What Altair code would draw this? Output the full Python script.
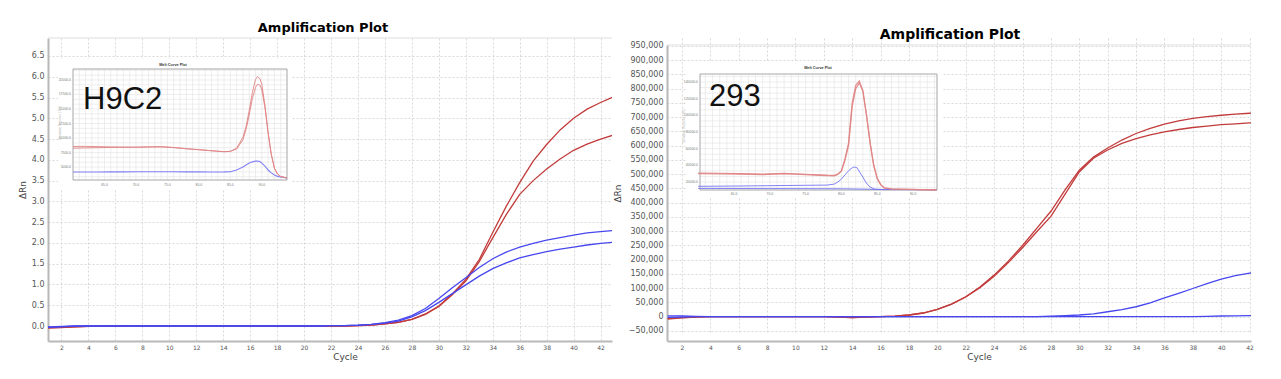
import altair as alt
import pandas as pd

# ---------------- data ----------------
cycles = list(range(1, 44))
x_ticks = list(range(2, 43, 2))

h9c2_red_a = [-0.04, -0.03, -0.02, -0.01, 0.0, 0.01, 0.01, 0.01, 0.01, 0.01, 0.01, 0.01, 0.01, 0.01, 0.01,
              0.01, 0.01, 0.0, 0.0, 0.0, 0.0, 0.0, 0.0, 0.01, 0.02, 0.05, 0.09, 0.16, 0.29, 0.48, 0.77,
              1.12, 1.6, 2.25, 2.88, 3.45, 3.97, 4.37, 4.72, 5.0, 5.22, 5.38, 5.52]
h9c2_red_b = [-0.05, -0.04, -0.02, -0.01, 0.0, 0.0, 0.01, 0.01, 0.01, 0.01, 0.01, 0.01, 0.01, 0.01, 0.01,
              0.01, 0.0, 0.0, 0.0, 0.0, 0.0, 0.0, 0.0, 0.01, 0.02, 0.05, 0.09, 0.16, 0.28, 0.47, 0.75,
              1.08, 1.55, 2.12, 2.68, 3.17, 3.5, 3.78, 4.02, 4.23, 4.38, 4.5, 4.6]
h9c2_blue_a = [-0.02, -0.01, 0.0, 0.0, 0.0, 0.0, 0.0, 0.0, 0.0, 0.0, 0.0, 0.0, 0.0, 0.0, 0.0,
               0.0, 0.0, 0.0, 0.0, 0.0, 0.0, 0.01, 0.01, 0.02, 0.04, 0.08, 0.14, 0.25, 0.42, 0.66, 0.92,
               1.16, 1.41, 1.62, 1.78, 1.9, 1.99, 2.07, 2.13, 2.19, 2.24, 2.27, 2.3]
h9c2_blue_b = [-0.03, -0.02, 0.0, 0.0, 0.0, 0.0, 0.0, 0.0, 0.0, 0.0, 0.0, 0.0, 0.0, 0.0, 0.0,
               0.0, 0.0, 0.0, 0.0, 0.0, 0.0, 0.01, 0.01, 0.02, 0.04, 0.07, 0.12, 0.22, 0.37, 0.57, 0.78,
               0.99, 1.2, 1.38, 1.52, 1.64, 1.72, 1.79, 1.85, 1.9, 1.95, 1.99, 2.02]

c293_red_a = [-6000, -3000, -1000, 0, 0, 0, 0, 0, 0, 0, 0, 0, -1000, -3000, -1500,
              0, 2000, 6000, 13000, 26000, 44000, 70000, 104000, 146000, 195000, 250000, 310000, 370000,
              445000, 514000, 560000, 592000, 620000, 643000, 661000, 676000, 687000, 696000, 702000,
              707000, 711000, 714000, 716000]
c293_red_b = [-8000, -4000, -1000, 0, 0, 0, 0, 0, 0, 0, 0, 0, -1500, -3500, -1500,
              0, 2000, 6000, 13000, 26000, 44000, 69000, 102000, 142000, 190000, 242000, 298000, 352000,
              430000, 508000, 556000, 585000, 608000, 625000, 638000, 649000, 657000, 664000, 669000,
              674000, 677000, 680000, 682000]
c293_blue_a = [3000, 3000, 1000, 0, 0, 0, 0, 0, 0, 0, 0, 0, 0, 0, 0,
               0, 0, 0, 0, 0, 0, 0, 0, 0, 0, 0, 500, 2300,
               4000, 6000, 10000, 17500, 25000, 35000, 49000, 66000, 82000, 99000, 116000,
               132000, 144000, 153000, 158000]
c293_blue_b = [-2000, -1000, 0, 0, 0, 0, 0, 0, 0, 0, 0, 0, 0, 0, 0,
               0, 0, 0, 0, 0, 0, 0, 0, 0, 0, 0, 0, 0,
               0, 0, 0, 0, 0, 0, 0, 0, 0, 0, 1000,
               2500, 3000, 3500, 3500]

# melt curve insets
h9c2_melt_t = [60, 62, 64, 66, 68, 70, 72, 74, 76, 78, 80, 82, 84, 85, 86, 87, 87.5, 88, 88.5, 89, 89.3,
               89.7, 90, 90.5, 91, 91.5, 92, 92.5, 93, 94]
h9c2_melt_red_a = [8250, 8300, 8340, 8380, 8400, 8420, 8480, 8510, 8380, 8170, 8000, 7820, 7650, 7700, 8250,
                   10140, 12000, 14760, 17840, 20070, 20580, 20240, 19210, 15610, 10990, 7230, 4830, 3800,
                   3370, 3120]
h9c2_melt_red_b = [8550, 8560, 8520, 8470, 8440, 8420, 8450, 8470, 8350, 8150, 7980, 7800, 7640, 7720, 8100,
                   9700, 11500, 14000, 16800, 18700, 19250, 19100, 18300, 15200, 10800, 7200, 4800, 3800,
                   3370, 3120]
h9c2_melt_blue = [4140, 4150, 4160, 4170, 4180, 4190, 4200, 4200, 4190, 4180, 4170, 4160, 4170, 4200, 4490,
                  5000, 5350, 5690, 5900, 6030, 6030, 5950, 5690, 5150, 4490, 4000, 3630, 3400, 3290, 3120]

c293_melt_t = [60, 63, 66, 69, 72, 75, 77, 78, 79, 79.5, 80, 80.5, 81, 81.5, 82, 82.5, 83, 83.5, 84, 84.5,
               85, 85.5, 86, 87, 89, 91, 93.3]
c293_melt_red_a = [29960, 29800, 29400, 28900, 29900, 28760, 28000, 27600, 27400, 29000, 33200, 48000, 67000,
                   115000, 136000, 141200, 129200, 100000, 67000, 40000, 24000, 16500, 12800, 11600, 11200,
                   10800, 10500]
c293_melt_red_b = [30800, 30500, 30000, 29500, 30300, 29300, 28600, 28200, 28000, 29500, 33000, 46000, 64000,
                   110000, 132000, 139000, 129000, 101000, 68000, 41000, 24500, 16800, 13000, 11700, 11300,
                   10900, 10500]
c293_melt_blue_t = [60, 66, 72, 75, 78, 79, 79.5, 80, 80.5, 81, 81.5, 81.8, 82.2, 82.6, 83, 83.3, 83.6, 84,
                    84.7, 86, 93.3]
c293_melt_blue_a = [14840, 15200, 15800, 16040, 16300, 17500, 20000, 23500, 28500, 33500, 37000, 38000, 37000,
                    31160, 26000, 21200, 17500, 14000, 11240, 10900, 10700]
c293_melt_blue_b_t = [60, 70, 80, 85, 93.3]
c293_melt_blue_b = [12300, 12100, 11900, 11200, 10900]

melt_x_labels = [65, 70, 75, 80, 85, 90]
h9c2_melt_y_labels = [5000, 7500, 10000, 12500, 15000, 17500, 20000]
c293_melt_y_labels = [20000, 40000, 60000, 80000, 100000, 120000, 140000]

# ---------------- style ----------------
RED = "#c23b3b"
BLUE = "#4747f0"
MELT_RED = "#e08484"
MELT_BLUE = "#7474f4"
FONT = "DejaVu Sans"

one = pd.DataFrame({"k": [0]})


def amp_frame(arrays):
    rows = []
    for name, arr in arrays:
        for c, v in zip(cycles, arr):
            rows.append({"cycle": c, "value": v, "series": name})
    return pd.DataFrame(rows)


def build_inset(sx, sy, box, frame, title_xy, label, label_xy, grid_t, grid_v,
                ylabels, xlab_y, ylab_x, atitle_xy, curves):
    bx0, by0, bx1, by1 = box
    fx0, fy0, fx1, fy1 = frame
    layers = [
        alt.Chart(one).mark_rect(fill="white").encode(
            x=alt.value(bx0), x2=alt.value(bx1), y=alt.value(by0), y2=alt.value(by1)),
        alt.Chart(pd.DataFrame({"t": grid_t})).mark_rule(color="#e2e2e2", strokeWidth=0.6).encode(
            x=alt.X("t:Q", scale=sx, axis=None), y=alt.value(fy0), y2=alt.value(fy1)),
        alt.Chart(pd.DataFrame({"v": grid_v})).mark_rule(color="#e2e2e2", strokeWidth=0.6).encode(
            y=alt.Y("v:Q", scale=sy, axis=None), x=alt.value(fx0), x2=alt.value(fx1)),
        alt.Chart(one).mark_rect(fill="white", fillOpacity=0, stroke="#a6a6a6", strokeWidth=1).encode(
            x=alt.value(fx0), x2=alt.value(fx1), y=alt.value(fy0), y2=alt.value(fy1)),
    ]
    for temps, vals, color, w in curves:
        layers.append(
            alt.Chart(pd.DataFrame({"t": temps, "v": vals})).mark_line(
                color=color, strokeWidth=w, opacity=0.9).encode(
                x=alt.X("t:Q", scale=sx, axis=None), y=alt.Y("v:Q", scale=sy, axis=None)))
    layers.append(
        alt.Chart(pd.DataFrame({"t": melt_x_labels, "lab": [f"{t:.1f}" for t in melt_x_labels]}))
        .mark_text(fontSize=3.4, color="#777777", font="Liberation Sans").encode(
            x=alt.X("t:Q", scale=sx, axis=None), y=alt.value(xlab_y), text="lab:N"))
    layers.append(
        alt.Chart(pd.DataFrame({"v": ylabels, "lab": [f"{v:.1f}" for v in ylabels]}))
        .mark_text(fontSize=3.4, color="#777777", align="right", font="Liberation Sans").encode(
            y=alt.Y("v:Q", scale=sy, axis=None), x=alt.value(ylab_x), text="lab:N"))
    layers.append(
        alt.Chart(one).mark_text(text="Melt Curve Plot", fontSize=3.8, fontWeight="bold",
                                 font="Liberation Sans", color="#333333").encode(
            x=alt.value(title_xy[0]), y=alt.value(title_xy[1])))
    layers.append(
        alt.Chart(one).mark_text(text="Derivative Reporter (-Rn')", fontSize=3, angle=270,
                                 font="Liberation Sans", color="#bbbbbb").encode(
            x=alt.value(atitle_xy[0]), y=alt.value(atitle_xy[1])))
    layers.append(
        alt.Chart(one).mark_text(text=label, fontSize=31, align="left", baseline="alphabetic",
                                 font="Liberation Sans", color="#111111").encode(
            x=alt.value(label_xy[0]), y=alt.value(label_xy[1])))
    return alt.layer(*layers)


def panel(df, width, height, y_top, xdom, ydom, yticks, yfmt, ytitle_pad, title, title_size, title_dx,
          title_dy, cycle_title_x, inset):
    names = ["red_a", "red_b", "blue_a", "blue_b"]
    lines = alt.Chart(df).mark_line(clip=True, strokeWidth=1.3).encode(
        x=alt.X("cycle:Q", scale=alt.Scale(domain=xdom, nice=False, zero=False),
                axis=alt.Axis(values=x_ticks, title="Cycle", labelFontSize=6, labelFlush=False,
                              labelPadding=3, titlePadding=2, titleX=cycle_title_x)),
        y=alt.Y("value:Q", scale=alt.Scale(domain=ydom, range=[height, y_top], nice=False, zero=False),
                axis=alt.Axis(values=yticks, format=yfmt, title="ΔRn", labelFontSize=8,
                              labelPadding=4, titlePadding=ytitle_pad, labelFlush=False)),
        color=alt.Color("series:N", scale=alt.Scale(domain=names, range=[RED, RED, BLUE, BLUE]),
                        legend=None),
        detail="series:N",
    )
    top = alt.Chart(one).mark_rule(color="#dddddd", strokeWidth=1).encode(
        x=alt.value(0), x2=alt.value(width), y=alt.value(y_top))
    main = alt.layer(lines, top)
    return alt.layer(main, inset).resolve_scale(x="independent", y="independent").properties(
        width=width, height=height,
        title=alt.TitleParams(text=title, fontSize=title_size, font=FONT, fontWeight="bold",
                              color="#000000", offset=3, dx=title_dx, dy=title_dy))


# ---------------- left panel (H9C2) ----------------
left_df = amp_frame([("red_a", h9c2_red_a), ("red_b", h9c2_red_b),
                     ("blue_a", h9c2_blue_a), ("blue_b", h9c2_blue_b)])
l_sx = alt.Scale(domain=[60, 94], range=[25, 239], nice=False, zero=False)
l_sy = alt.Scale(domain=[2774, 21883], range=[142, 31], nice=False, zero=False)
left_inset = build_inset(
    l_sx, l_sy, box=(10, 21, 244, 151), frame=(25, 31, 239, 142), title_xy=(125, 27),
    label="H9C2", label_xy=(35, 70.5),
    grid_t=list(range(61, 94)), grid_v=[k * 2500 / 3 for k in range(4, 27)],
    ylabels=h9c2_melt_y_labels, xlab_y=147, ylab_x=23, atitle_xy=(12, 85),
    curves=[(h9c2_melt_t, h9c2_melt_blue, MELT_BLUE, 1.1),
            (h9c2_melt_t, h9c2_melt_red_b, MELT_RED, 1.0),
            (h9c2_melt_t, h9c2_melt_red_a, MELT_RED, 1.0)])
left = panel(left_df, 564, 303, 0, [1, 42.85], [-0.361, 6.933],
             [i * 0.5 for i in range(0, 14)], ".1f", 4, "Amplification Plot", 13, -7, 0, 297, left_inset)

# ---------------- right panel (293) ----------------
R_OFF = 7  # right plot area starts 7px lower than the left one
right_df = amp_frame([("red_a", c293_red_a), ("red_b", c293_red_b),
                      ("blue_a", c293_blue_a), ("blue_b", c293_blue_b)])
r_sx = alt.Scale(domain=[60.25, 93.35], range=[33, 270], nice=False, zero=False)
r_sy = alt.Scale(domain=[10400, 149600], range=[145 + R_OFF, 29 + R_OFF], nice=False, zero=False)
right_inset = build_inset(
    r_sx, r_sy, box=(19, 17 + R_OFF, 275, 153 + R_OFF), frame=(33, 29 + R_OFF, 270, 145 + R_OFF),
    title_xy=(151, 23 + R_OFF), label="293", label_xy=(42, 61 + R_OFF),
    grid_t=list(range(61, 94)), grid_v=[k * 20000 / 3 for k in range(2, 23)],
    ylabels=c293_melt_y_labels, xlab_y=149 + R_OFF, ylab_x=31, atitle_xy=(17, 81 + R_OFF),
    curves=[(c293_melt_blue_b_t, c293_melt_blue_b, MELT_BLUE, 1.0),
            (c293_melt_blue_t, c293_melt_blue_a, MELT_BLUE, 1.0),
            (c293_melt_t, c293_melt_red_b, MELT_RED, 1.2),
            (c293_melt_t, c293_melt_red_a, MELT_RED, 1.2)])
right = panel(right_df, 584, 303, R_OFF, [0.95, 42.1], [-85200, 953500],
              [i * 50000 for i in range(-1, 20)], ",d", 6, "Amplification Plot", 14, -9, R_OFF, 312,
              right_inset)

chart = alt.hconcat(left, right, spacing=0, padding={"left": 10, "top": 13, "right": 5, "bottom": 5}) \
    .configure_view(stroke=None) \
    .configure_axis(labelFont=FONT, labelColor="#555555", titleFont=FONT, titleColor="#444444",
                    titleFontWeight="normal", titleFontSize=9, domainColor="#b8b8b8", domainWidth=2,
                    ticks=False, gridColor="#d9d9d9", gridDash=[2, 2], gridWidth=1)

chart.save("out.html", embed_options={"renderer": "svg", "actions": False})
